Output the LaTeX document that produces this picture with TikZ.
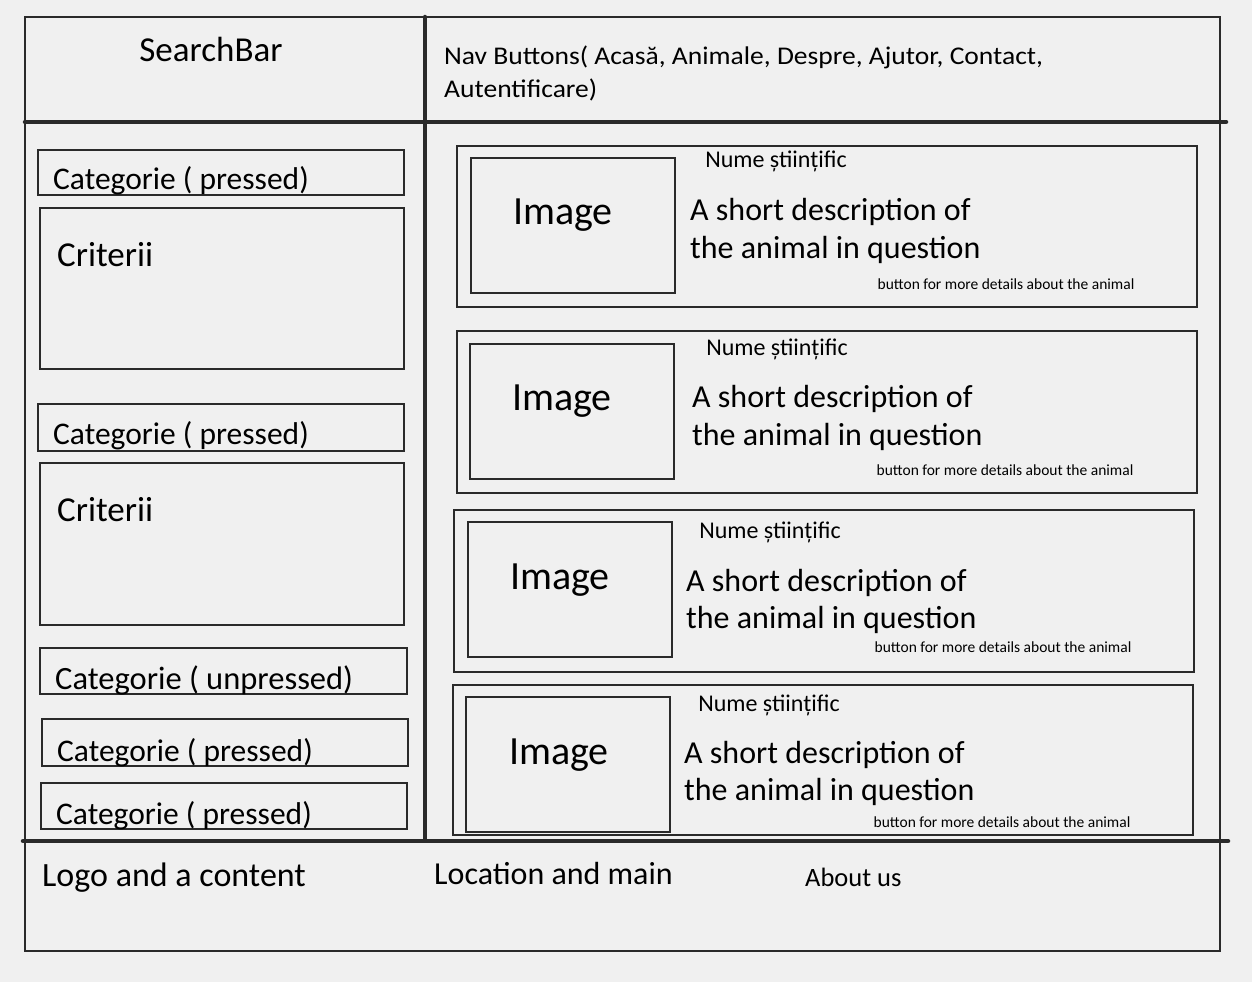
\documentclass[tikz,border=0pt]{standalone}
\usepackage{fontspec}
\setmainfont{Carlito}
\newfontfamily\navfont[FakeStretch=1.08]{Carlito}
\definecolor{bg}{HTML}{F0F0F0}
\definecolor{ink}{HTML}{2A2A2A}
\begin{document}
\begin{tikzpicture}[x=1pt,y=-1pt,
  box/.style={draw=ink,line width=2pt},
  frame/.style={draw=ink,line width=2.5pt},
  divider/.style={draw=ink,line width=4.5pt,line cap=round},
  lbl/.style={inner sep=0pt,text=black,anchor=base west},
  catf/.style={lbl,font=\fontsize{31.5}{31.5}\selectfont},
  critf/.style={lbl,font=\fontsize{35}{35}\selectfont},
  imgf/.style={lbl,anchor=base,font=\fontsize{40}{40}\selectfont},
  numef/.style={lbl,anchor=base,font=\fontsize{24}{24}\selectfont},
  descf/.style={lbl,font=\fontsize{32}{32}\selectfont},
  btnf/.style={lbl,anchor=base,font=\fontsize{15.5}{15.5}\selectfont},
  navf/.style={lbl,font=\navfont\fontsize{25.5}{25.5}\selectfont}]
\fill[bg] (0,0) rectangle (1252,982);
\useasboundingbox (0,0) rectangle (1252,982);
% outer frame
\draw[frame] (25,17) rectangle (1220,951);
\draw[divider] (425,17) -- (425,840);
\draw[divider] (25,122) -- (1226,122);
\draw[divider] (23,841) -- (1228,841);
% header
\node[lbl,anchor=base,font=\fontsize{35}{35}\selectfont] (search) at (211,61) {SearchBar};
\node[navf] (nav1) at (444,65) {Nav Buttons( Acasă, Animale, Despre, Ajutor, Contact,};
\node[navf] (nav2) at (444,97) {Autentificare)};
% left column
\draw[box] (38,150) rectangle (404,195);
\node[catf] (cat1) at (53,189) {Categorie ( pressed)};
\draw[box] (40,208) rectangle (404,369);
\node[critf] (crit1) at (57,266) {Criterii};
\draw[box] (38,404) rectangle (404,451);
\node[catf] (cat2) at (53,444) {Categorie ( pressed)};
\draw[box] (40,463) rectangle (404,625);
\node[critf] (crit2) at (57,521) {Criterii};
\draw[box] (40,648) rectangle (407,694);
\node[catf,font=\fontsize{32.5}{32.5}\selectfont] (cat3) at (55,689) {Categorie ( unpressed)};
\draw[box] (42,719) rectangle (408,766);
\node[catf] (cat4) at (57,761) {Categorie ( pressed)};
\draw[box] (41,783) rectangle (407,829);
\node[catf] (cat5) at (56,824) {Categorie ( pressed)};
% cards
\foreach \i/\cx/\cy/\cw/\ch/\ix/\iy/\tx/\ty/\nx/\ny/\dx/\dya/\dyb/\bx/\by in {
  1/457/146/740/161/471/158/563/224/776/167/690/220/258/1006/289,
  2/457/331/740/162/470/344/562/410/777/355/692/407/445/1005/475,
  3/454/510/740/162/468/522/560/589/770/538/686/591/628/1003/652,
  4/453/685/740/150/466/697/559/764/769/711/684/763/800/1002/827}{
  \draw[box] (\cx,\cy) rectangle ++(\cw,\ch);
  \draw[box] (\ix,\iy) rectangle ++(204,135);
  \node[imgf] (img\i) at (\tx,\ty) {Image};
  \node[numef] (nume\i) at (\nx,\ny) {Nume științific};
  \node[descf] (desca\i) at (\dx,\dya) {A short description of};
  \node[descf] (descb\i) at (\dx,\dyb) {the animal in question};
  \node[btnf] (btn\i) at (\bx,\by) {button for more details about the animal};
}
% footer
\node[lbl,font=\fontsize{34}{34}\selectfont] (logo) at (42,886) {Logo and a content};
\node[lbl,font=\fontsize{32}{32}\selectfont] (loc) at (434,884) {Location and main};
\node[lbl,font=\fontsize{26.5}{26.5}\selectfont] (about) at (805,886) {About us};
\end{tikzpicture}
\end{document}
